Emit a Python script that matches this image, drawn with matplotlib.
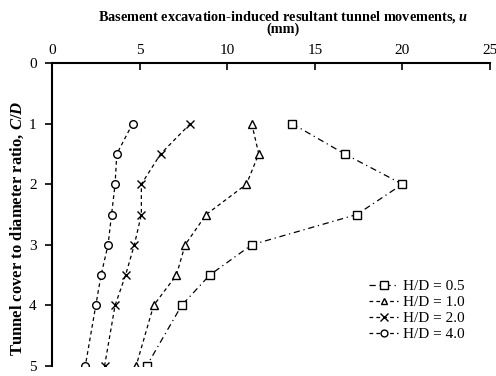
import numpy as np
import matplotlib.pyplot as plt

plt.rcParams['font.family'] = ['Liberation Serif', 'DejaVu Serif']
plt.rcParams['mathtext.fontset'] = 'custom'
plt.rcParams['mathtext.it'] = 'Liberation Serif:italic:bold'
plt.rcParams['mathtext.rm'] = 'Liberation Serif:bold'

# Глубина тоннеля (C/D) и перемещения (мм) для разных H/D
cd = [1, 1.5, 2, 2.5, 3, 3.5, 4, 5]
u_05 = [13.7, 16.7, 20.0, 17.4, 11.4, 9.0, 7.4, 5.4]
u_10 = [11.4, 11.8, 11.1, 8.8, 7.6, 7.1, 5.8, 4.8]
u_20 = [7.9, 6.2, 5.1, 5.1, 4.7, 4.2, 3.6, 3.0]
u_40 = [4.6, 3.7, 3.6, 3.4, 3.2, 2.8, 2.5, 1.9]

series = [
    ("H/D = 0.5", u_05, 's', 5.8, (0, (5, 3, 1, 3))),
    ("H/D = 1.0", u_10, '^', 5.5, (0, (3, 2.5))),
    ("H/D = 2.0", u_20, 'x', 6.0, (0, (3, 2.5))),
    ("H/D = 4.0", u_40, 'o', 5.5, (0, (3, 2.5))),
]

fig = plt.figure(figsize=(4.96, 3.76), dpi=100)
ax = fig.add_axes([52 / 496, 1 - 366 / 376, 438 / 496, 303 / 376])

for name, u, m, ms, ls in series:
    ax.plot(u, cd, linestyle=ls, color='black', linewidth=0.9,
            marker=m, markersize=ms,
            markerfacecolor='white', markeredgecolor='black',
            markeredgewidth=1.0, label=name)

ax.set_xlim(0, 25)
ax.set_ylim(5, 0)
ax.set_xticks(np.arange(0, 26, 5))
ax.set_yticks(np.arange(0, 6, 1))
ax.xaxis.tick_top()
ax.xaxis.set_label_position('top')
ax.spines['right'].set_visible(False)
ax.spines['bottom'].set_visible(False)
ax.spines['left'].set_linewidth(1.5)
ax.spines['top'].set_linewidth(1.5)
ax.tick_params(axis='x', direction='in', length=5, width=1.2, labelsize=11, pad=4)
ax.tick_params(axis='y', direction='out', length=5, width=1.2, labelsize=11, pad=6)

ax.set_xlabel("Basement excavation-induced resultant tunnel movements, $u$\n(mm)",
              fontsize=10.3, fontweight='bold', linespacing=0.85)
ax.xaxis.set_label_coords(0.527, 1.098)
ax.set_ylabel("Tunnel cover to diameter ratio, $C/D$",
              fontsize=12, fontweight='bold')
ax.yaxis.set_label_coords(-0.06, 0.455)

ax.legend(loc='upper left', bbox_to_anchor=(0.71, 0.305), borderaxespad=0,
          frameon=False, fontsize=11, handlelength=1.9, handletextpad=0.3,
          labelspacing=0.15, markerscale=0.9)

fig.savefig('out.png', dpi=100)
